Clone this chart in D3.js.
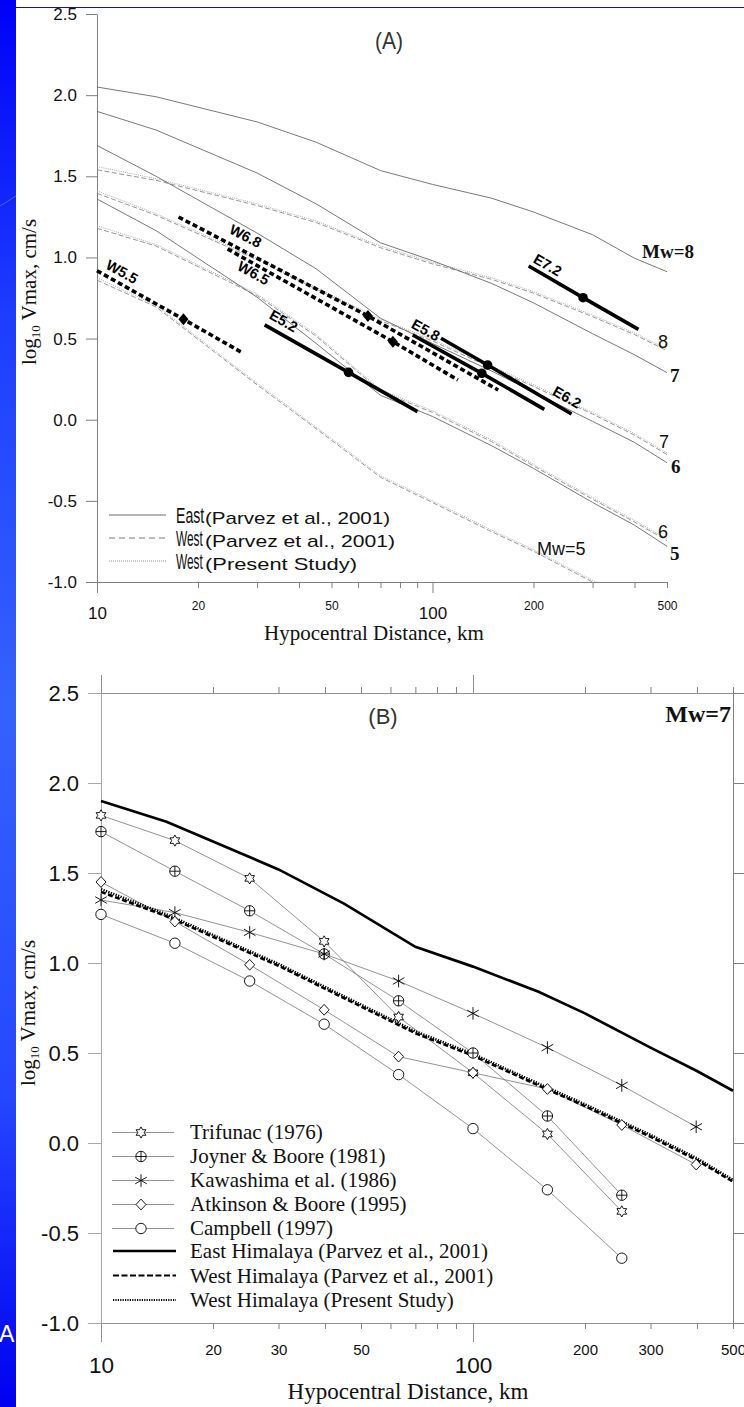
<!DOCTYPE html>
<html>
<head>
<meta charset="utf-8">
<script src="https://cdn.jsdelivr.net/npm/d3@7"></script>
<style>
  body { margin: 0; background: #fff; }
  svg { display: block; }
</style>
</head>
<body>
<div id="chart"></div>
<script>
// distances (km) at which the attenuation curves are drawn
var curveDist = [10, 15, 30, 45, 70, 100, 150, 200, 300, 400, 500];

// log10 Vmax (cm/s) - East Himalaya (Parvez et al., 2001)
var eastM5 = [1.36, 1.165, 0.755, 0.47, 0.15, 0.02, -0.16, -0.30, -0.51, -0.65, -0.78];
var eastM6 = [1.69, 1.50, 1.15, 0.93, 0.625, 0.47, 0.30, 0.17, -0.01, -0.14, -0.265];
var eastM7 = [1.90, 1.785, 1.52, 1.33, 1.09, 0.98, 0.84, 0.72, 0.53, 0.40, 0.29];
var eastM8 = [2.05, 1.99, 1.835, 1.71, 1.535, 1.45, 1.365, 1.28, 1.14, 0.995, 0.912];

// West Himalaya (Parvez et al., 2001)
var westM5 = [0.86, 0.695, 0.215, -0.055, -0.355, -0.51, -0.69, -0.81, -1.0, -1.13, -1.23];
var westM6 = [1.18, 1.07, 0.765, 0.515, 0.175, 0.045, -0.135, -0.285, -0.49, -0.63, -0.745];
var westM7 = [1.395, 1.26, 0.985, 0.805, 0.61, 0.485, 0.32, 0.205, 0.035, -0.095, -0.215];
var westM8 = [1.54, 1.475, 1.32, 1.215, 1.06, 0.96, 0.865, 0.78, 0.635, 0.525, 0.425];

// West Himalaya (present study)
var presM5 = [0.875, 0.705, 0.225, -0.045, -0.345, -0.50, -0.68, -0.80, -0.99, -1.12, -1.22];
var presM6 = [1.195, 1.08, 0.775, 0.525, 0.185, 0.055, -0.125, -0.275, -0.48, -0.62, -0.735];
var presM7 = [1.41, 1.27, 0.995, 0.815, 0.62, 0.495, 0.33, 0.215, 0.045, -0.085, -0.205];
var presM8 = [1.56, 1.485, 1.33, 1.225, 1.07, 0.97, 0.875, 0.79, 0.645, 0.535, 0.435];

// observed events: start, centre, end of each segment
var eventNames = ["W5.5", "W6.8", "W6.5", "E5.2", "E5.8", "E6.2", "E7.2"];
var eventDist = [[10, 18.1, 27.2], [17.5, 64.2, 157], [24.5, 76.2, 119], [31.6, 56.2, 90.2],
                 [87.3, 140.3, 215.4], [106, 146, 259.7], [193.5, 281, 411]];
var eventLogV = [[0.918, 0.619, 0.411], [1.249, 0.639, 0.183], [1.052, 0.481, 0.245], [0.584, 0.292, 0.05],
                 [0.522, 0.286, 0.064], [0.502, 0.337, 0.035], [0.947, 0.752, 0.557]];

// panel B: other relations for Mw = 7
var refDist = [10, 15.8, 25.1, 39.8, 63.1, 100, 158.5, 251.2, 398.1];
var trifunac = [1.82, 1.68, 1.47, 1.12, 0.70, 0.39, 0.05, -0.38];
var joynerBoore = [1.73, 1.51, 1.29, 1.05, 0.79, 0.50, 0.15, -0.29];
var kawashima = [1.35, 1.28, 1.17, 1.05, 0.90, 0.72, 0.53, 0.32, 0.09];
var atkinsonBoore = [1.45, 1.23, 0.99, 0.74, 0.48, 0.39, 0.30, 0.10, -0.12];
var campbell = [1.27, 1.11, 0.90, 0.66, 0.38, 0.08, -0.26, -0.64];
var refNames = ["Trifunac (1976)", "Joyner & Boore (1981)", "Kawashima et al. (1986)",
                "Atkinson & Boore (1995)", "Campbell (1997)"];
var modelNames = ["East Himalaya (Parvez et al., 2001)", "West Himalaya (Parvez et al., 2001)",
                  "West Himalaya (Present Study)"];

// ticks
var yTicks = [-1, -0.5, 0, 0.5, 1, 1.5, 2, 2.5];
var xMajor = [10, 100];
var xMinor = [20, 30, 40, 50, 60, 70, 80, 90, 200, 300, 400, 500];
var minorLabA = [20, 50, 200, 500];
var minorLabB = [20, 30, 50, 200, 300, 500];

var W = 744, H = 1407;
var sans = "'Liberation Sans', Arial, sans-serif";
var serif = "'Liberation Serif', 'Times New Roman', serif";

var svg = d3.select("#chart").append("svg").attr("width", W).attr("height", H);
var defs = svg.append("defs");

// slide decoration: blue strip on the left and thin line on top
var grad = defs.append("linearGradient").attr("id", "strip")
    .attr("x1", 0).attr("x2", 0).attr("y1", 0).attr("y2", 1);
[["0%", "#0000f6"], ["22%", "#1d3cff"], ["50%", "#3462ff"], ["78%", "#2546ff"], ["100%", "#0000f0"]]
  .forEach(function(s) { grad.append("stop").attr("offset", s[0]).attr("stop-color", s[1]); });
svg.append("rect").attr("width", 16).attr("height", H).attr("fill", "url(#strip)");
svg.append("line").attr("x1", 0).attr("y1", 206).attr("x2", 16).attr("y2", 196)
  .attr("stroke", "rgba(255,255,255,0.25)");
svg.append("line").attr("x1", 16).attr("x2", W).attr("y1", 7.5).attr("y2", 7.5)
  .attr("stroke", "#0c0cc8");
svg.append("text").attr("x", -1).attr("y", 1342).text("A")
  .attr("fill", "#fff").attr("font-family", sans).attr("font-size", 23);

function fmt(d) { return d.toFixed(1); }

function dress(g, color, font, size) {
  g.attr("font-family", font).attr("font-size", size);
  g.select(".domain").attr("stroke", color);
  g.selectAll(".tick line").attr("stroke", color);
  g.selectAll(".tick text").attr("fill", "#111");
  return g;
}

function markerPath(type) {
  var p = d3.path(), i, a, r;
  if (type === "star") {
    for (i = 0; i < 12; i++) {
      a = -Math.PI / 2 + i * Math.PI / 6;
      r = i % 2 ? 3.2 : 5.6;
      if (i === 0) p.moveTo(r * Math.cos(a), r * Math.sin(a)); else p.lineTo(r * Math.cos(a), r * Math.sin(a));
    }
    p.closePath();
  } else if (type === "oplus") {
    p.moveTo(5.2, 0); p.arc(0, 0, 5.2, 0, 2 * Math.PI);
    p.moveTo(-5.2, 0); p.lineTo(5.2, 0); p.moveTo(0, -5.2); p.lineTo(0, 5.2);
  } else if (type === "asterisk") {
    p.moveTo(0, -6.3); p.lineTo(0, 6.3);
    p.moveTo(-5.8, -3.3); p.lineTo(5.8, 3.3);
    p.moveTo(-5.8, 3.3); p.lineTo(5.8, -3.3);
  } else if (type === "diamond") {
    p.moveTo(0, -5.4); p.lineTo(5, 0); p.lineTo(0, 5.4); p.lineTo(-5, 0); p.closePath();
  } else {
    p.moveTo(5.2, 0); p.arc(0, 0, 5.2, 0, 2 * Math.PI);
  }
  return p.toString();
}

// ===================== panel (A) =====================
var xA = d3.scaleLog().domain([10, 500]).range([97, 667]);
var yA = d3.scaleLinear().domain([-1, 2.5]).range([582, 14]);
var gA = svg.append("g");

defs.append("clipPath").attr("id", "clipA").append("rect")
  .attr("x", 97).attr("y", 14).attr("width", 570).attr("height", 568);

dress(gA.append("g").attr("transform", "translate(97,0)")
  .call(d3.axisLeft(yA).tickValues(yTicks).tickFormat(fmt).tickSize(11).tickPadding(9).tickSizeOuter(0)),
  "#808080", sans, 17);
dress(gA.append("g").attr("transform", "translate(0,582)")
  .call(d3.axisBottom(xA).tickValues(xMinor).tickSize(6).tickPadding(13).tickSizeOuter(0)
    .tickFormat(function(d) { return minorLabA.indexOf(d) >= 0 ? d : ""; })),
  "#808080", sans, 12);
dress(gA.append("g").attr("transform", "translate(0,582)")
  .call(d3.axisBottom(xA).tickValues(xMajor).tickSize(11).tickPadding(14).tickSizeOuter(0)
    .tickFormat(d3.format("d"))),
  "#808080", sans, 17);

var lineA = d3.line()
  .x(function(v, i) { return xA(curveDist[i]); })
  .y(function(v) { return yA(v); });

var curvesA = gA.append("g").attr("clip-path", "url(#clipA)").attr("fill", "none");
[presM5, presM6, presM7, presM8].forEach(function(c) {
  curvesA.append("path").attr("d", lineA(c)).attr("stroke", "#a0a0a0")
    .attr("stroke-width", 0.9).attr("stroke-dasharray", "1,1.2");
});
[westM5, westM6, westM7, westM8].forEach(function(c) {
  curvesA.append("path").attr("d", lineA(c)).attr("stroke", "#8a8a8a")
    .attr("stroke-width", 0.9).attr("stroke-dasharray", "5,2.5");
});
[eastM5, eastM6, eastM7, eastM8].forEach(function(c) {
  curvesA.append("path").attr("d", lineA(c)).attr("stroke", "#6a6a6a").attr("stroke-width", 0.9);
});

// observed event segments
var eventLabelOffset = {"W5.5": [25, 1], "W6.8": [67, 19], "W6.5": [26, 24], "E5.2": [19, -4],
                        "E5.8": [13, -5], "E6.2": [126, 59], "E7.2": [19, -1]};
eventNames.forEach(function(name, k) {
  var pts = eventDist[k].map(function(d, j) { return [xA(d), yA(eventLogV[k][j])]; });
  var west = name.charAt(0) === "W";
  gA.append("path").attr("d", d3.line()(pts)).attr("fill", "none")
    .attr("stroke", "#000").attr("stroke-width", 3.6)
    .attr("stroke-dasharray", west ? "5,3" : null);
  if (west) {
    gA.append("path").attr("d", "M0,-6L5,0L0,6L-5,0Z").attr("fill", "#000")
      .attr("transform", "translate(" + pts[1][0] + "," + pts[1][1] + ")");
  } else {
    gA.append("circle").attr("cx", pts[1][0]).attr("cy", pts[1][1]).attr("r", 4.8).attr("fill", "#000");
  }
  var ang = Math.atan2(pts[1][1] - pts[0][1], pts[1][0] - pts[0][0]) * 180 / Math.PI;
  var off = eventLabelOffset[name];
  gA.append("text")
    .attr("transform", "translate(" + (pts[0][0] + off[0]) + "," + (pts[0][1] + off[1]) + ") rotate(" + ang + ")")
    .attr("text-anchor", "middle").attr("dy", "0.35em")
    .attr("font-family", sans).attr("font-size", 14.5).attr("font-weight", "bold")
    .text(name);
});

// magnitude labels at the right end of the curves
var endLabels = [
  {t: "Mw=8", x: 642, y: 258, bold: true}, {t: "8", x: 658, y: 348, bold: false},
  {t: "7", x: 670, y: 382, bold: true}, {t: "7", x: 659, y: 448, bold: false},
  {t: "6", x: 671, y: 473, bold: true}, {t: "6", x: 658, y: 538, bold: false},
  {t: "5", x: 670, y: 560, bold: true}, {t: "Mw=5", x: 537, y: 555, bold: false}
];
endLabels.forEach(function(l) {
  gA.append("text").attr("x", l.x).attr("y", l.y).text(l.t)
    .attr("font-family", l.bold ? serif : sans).attr("font-weight", l.bold ? "bold" : "normal")
    .attr("font-size", l.bold ? 19 : 18).attr("fill", "#111");
});

gA.append("text").attr("x", 389).attr("y", 49).attr("text-anchor", "middle").text("(A)")
  .attr("font-family", sans).attr("font-size", 24).attr("fill", "#333")
  .attr("textLength", 28).attr("lengthAdjust", "spacingAndGlyphs");

// legend (A): the big key word is drawn condensed, as in the original
var legA = [{k: "East", s: "(Parvez et al., 2001)", dash: null, c: "#6a6a6a", w: 185},
            {k: "West", s: "(Parvez et al., 2001)", dash: "6,4", c: "#7a7a7a", w: 190},
            {k: "West", s: "(Present Study)", dash: "1,1", c: "#909090", w: 152}];
legA.forEach(function(l, i) {
  var y = 515 + i * 23;
  gA.append("line").attr("x1", 109).attr("x2", 166).attr("y1", y).attr("y2", y)
    .attr("stroke", l.c).attr("stroke-dasharray", l.dash);
  gA.append("text").attr("transform", "translate(176," + (y + 8) + ") scale(" + (l.k === "East" ? 0.64 : 0.54) + ",1)")
    .text(l.k).attr("font-family", sans).attr("font-size", 22).attr("fill", "#111");
  gA.append("text").attr("x", 205).attr("y", y + 9).text(l.s)
    .attr("font-family", sans).attr("font-size", 17).attr("fill", "#111")
    .attr("textLength", l.w).attr("lengthAdjust", "spacingAndGlyphs");
});

// axis titles (A)
gA.append("text").attr("x", 374).attr("y", 640).attr("text-anchor", "middle")
  .text("Hypocentral Distance, km").attr("font-family", serif).attr("font-size", 21).attr("fill", "#111");
var ytA = gA.append("text").attr("transform", "translate(36,292) rotate(-90)").attr("text-anchor", "middle")
  .attr("font-family", serif).attr("font-size", 21).attr("fill", "#111");
ytA.append("tspan").text("log");
ytA.append("tspan").attr("font-size", 13).attr("dy", 4).text("10");
ytA.append("tspan").attr("dy", -4).text(" Vmax, cm/s");

// ===================== panel (B) =====================
var xB = d3.scaleLog().domain([10, 500]).range([101, 733]);
var yB = d3.scaleLinear().domain([-1, 2.5]).range([1323, 693]);
var gB = svg.append("g");

dress(gB.append("g").attr("transform", "translate(101,0)")
  .call(d3.axisLeft(yB).tickValues(yTicks).tickFormat(fmt).tickSize(13).tickPadding(9).tickSizeOuter(0)),
  "#a8a8a8", sans, 22);
dress(gB.append("g").attr("transform", "translate(733,0)")
  .call(d3.axisRight(yB).tickValues(yTicks).tickFormat("").tickSize(11).tickSizeOuter(0)),
  "#808080", sans, 10);
dress(gB.append("g").attr("transform", "translate(0,693)")
  .call(d3.axisTop(xB).tickValues(xMinor).tickFormat("").tickSize(6).tickSizeOuter(0)),
  "#808080", sans, 10);
dress(gB.append("g").attr("transform", "translate(0,693)")
  .call(d3.axisTop(xB).tickValues(xMajor).tickFormat("").tickSize(18).tickSizeOuter(0)),
  "#909090", sans, 10);
dress(gB.append("g").attr("transform", "translate(0,1323)")
  .call(d3.axisBottom(xB).tickValues(xMinor).tickSize(6).tickPadding(15).tickSizeOuter(0)
    .tickFormat(function(d) { return minorLabB.indexOf(d) >= 0 ? d : ""; })),
  "#808080", sans, 15);
dress(gB.append("g").attr("transform", "translate(0,1323)")
  .call(d3.axisBottom(xB).tickValues(xMajor).tickSize(19).tickPadding(15).tickSizeOuter(0)
    .tickFormat(d3.format("d"))),
  "#909090", sans, 22.5);

var lineB = d3.line()
  .x(function(v, i) { return xB(curveDist[i]); })
  .y(function(v) { return yB(v); });
var refLine = d3.line()
  .x(function(v, i) { return xB(refDist[i]); })
  .y(function(v) { return yB(v); });

var markerTypes = ["star", "oplus", "asterisk", "diamond", "circle"];
var refSeries = [trifunac, joynerBoore, kawashima, atkinsonBoore, campbell];

refSeries.forEach(function(s) {
  gB.append("path").attr("d", refLine(s)).attr("fill", "none")
    .attr("stroke", "#777").attr("stroke-width", 0.8);
});

gB.append("path").attr("d", lineB(eastM7)).attr("fill", "none")
  .attr("stroke", "#000").attr("stroke-width", 2.7);
gB.append("path").attr("d", lineB(westM7)).attr("fill", "none")
  .attr("stroke", "#000").attr("stroke-width", 2.6).attr("stroke-dasharray", "5,2.5");
gB.append("path").attr("d", lineB(presM7)).attr("fill", "none")
  .attr("stroke", "#000").attr("stroke-width", 2.6).attr("stroke-dasharray", "1.3,1.3");

refSeries.forEach(function(s, k) {
  gB.selectAll(null).data(s).enter().append("path")
    .attr("d", markerPath(markerTypes[k]))
    .attr("transform", function(v, i) { return "translate(" + xB(refDist[i]) + "," + yB(v) + ")"; })
    .attr("fill", k === 2 ? "none" : "#fff").attr("stroke", "#000").attr("stroke-width", 0.9);
});

gB.append("text").attr("x", 383).attr("y", 724).attr("text-anchor", "middle").text("(B)")
  .attr("font-family", sans).attr("font-size", 22).attr("fill", "#333");
gB.append("text").attr("x", 731).attr("y", 722).attr("text-anchor", "end").text("Mw=7")
  .attr("font-family", serif).attr("font-size", 24).attr("font-weight", "bold").attr("fill", "#111");

// legend (B)
var legB = gB.append("g").attr("font-family", serif).attr("font-size", 21).attr("fill", "#111");
refNames.forEach(function(n, k) {
  var y = 1132.5 + k * 24;
  legB.append("line").attr("x1", 112).attr("x2", 174).attr("y1", y).attr("y2", y)
    .attr("stroke", "#777").attr("stroke-width", 0.8);
  legB.append("path").attr("d", markerPath(markerTypes[k]))
    .attr("transform", "translate(141," + y + ")")
    .attr("fill", k === 2 ? "none" : "#fff").attr("stroke", "#000").attr("stroke-width", 0.9);
  legB.append("text").attr("x", 190).attr("y", y + 6).text(n);
});
var modelDash = [null, "6,2.5", "1.2,1.2"];
modelNames.forEach(function(n, k) {
  var y = 1251 + k * 24.5;
  legB.append("line").attr("x1", 113).attr("x2", 176).attr("y1", y).attr("y2", y)
    .attr("stroke", "#000").attr("stroke-width", k === 0 ? 2.6 : 2.2)
    .attr("stroke-dasharray", modelDash[k]);
  legB.append("text").attr("x", 190).attr("y", y + 7).text(n);
});

// axis titles (B)
gB.append("text").attr("x", 408).attr("y", 1399).attr("text-anchor", "middle")
  .text("Hypocentral Distance, km").attr("font-family", serif).attr("font-size", 23).attr("fill", "#111");
var ytB = gB.append("text").attr("transform", "translate(35,1013) rotate(-90)").attr("text-anchor", "middle")
  .attr("font-family", serif).attr("font-size", 21).attr("fill", "#111");
ytB.append("tspan").text("log");
ytB.append("tspan").attr("font-size", 13).attr("dy", 4).text("10");
ytB.append("tspan").attr("dy", -4).text(" Vmax, cm/s");
</script>
</body>
</html>
